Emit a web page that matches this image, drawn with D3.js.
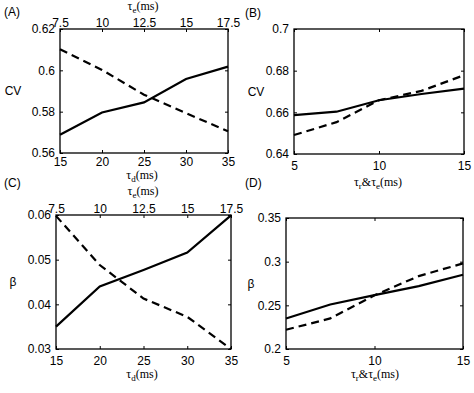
<!DOCTYPE html>
<html>
<head>
<meta charset="utf-8">
<script src="https://cdn.jsdelivr.net/npm/d3@7"></script>
<style>
  body { margin: 0; background: #fff; }
  svg { display: block; font-family: "Liberation Sans", Arial, sans-serif; }
  .tick text { font-size: 12px; fill: #000; }
</style>
</head>
<body>
<div id="chart"></div>
<script>
// x values
const tauD = [15, 20, 25, 30, 35];
const tauFE = [5, 7.5, 10, 12.5, 15];

// tick labels
const tauDTicks = [15, 20, 25, 30, 35];
const tauETopTicks = [7.5, 10, 12.5, 15, 17.5];
const tauFETicks = [5, 10, 15];
const cvATicks = [0.56, 0.58, 0.6, 0.62];
const cvBTicks = [0.64, 0.66, 0.68, 0.7];
const betaCTicks = [0.03, 0.04, 0.05, 0.06];
const betaDTicks = [0.2, 0.25, 0.3, 0.35];

// series (solid / dashed)
const cvASolid = [0.5688, 0.5796, 0.5845, 0.5958, 0.6018];
const cvADashed = [0.6102, 0.6002, 0.5882, 0.5793, 0.5705];
const cvBSolid = [0.6587, 0.6603, 0.6658, 0.6688, 0.6714];
const cvBDashed = [0.6491, 0.6553, 0.6658, 0.6703, 0.6778];
const betaCSolid = [0.0350, 0.0440, 0.0477, 0.0516, 0.0599];
const betaCDashed = [0.0598, 0.0488, 0.0413, 0.0372, 0.0300];
const betaDSolid = [0.235, 0.251, 0.2617, 0.272, 0.285];
const betaDDashed = [0.222, 0.235, 0.2615, 0.2835, 0.298];

const width = 474, height = 393;
const svg = d3.select("#chart").append("svg")
    .attr("width", width)
    .attr("height", height);

// tau axis label with subscripts
function tauLabel(g, x, y, sub, extra) {
    const t = g.append("text")
        .attr("x", x)
        .attr("y", y)
        .attr("text-anchor", "middle")
        .style("font-size", "12px")
        .style("font-family", "'Liberation Serif', serif");
    t.append("tspan").text("τ");
    t.append("tspan").attr("dy", 3).style("font-size", "9px").text(sub);
    if (extra) {
        t.append("tspan").attr("dy", -3).text("&τ");
        t.append("tspan").attr("dy", 3).style("font-size", "9px").text(extra);
    }
    t.append("tspan").attr("dy", -3).text("(ms)");
}

function drawPanel(p) {
    const x = d3.scaleLinear().domain(p.xDomain).range([p.left, p.right]);
    const y = d3.scaleLinear().domain(p.yDomain).range([p.bottom, p.top]);
    const g = svg.append("g");

    // axes, matlab style ticks pointing inside
    g.append("g")
        .attr("transform", `translate(0, ${p.bottom})`)
        .call(d3.axisBottom(x).tickValues(p.xTicks).tickSizeInner(-3).tickSizeOuter(0).tickPadding(p.xPad || 7).tickFormat(d3.format("")))
        .call(s => s.select(".domain").remove());
    g.append("g")
        .attr("transform", `translate(${p.left}, 0)`)
        .call(d3.axisLeft(y).tickValues(p.yTicks).tickSizeInner(-3).tickSizeOuter(0).tickPadding(5).tickFormat(d3.format("")))
        .call(s => s.select(".domain").remove());
    g.append("g")
        .attr("transform", `translate(${p.right}, 0)`)
        .call(d3.axisRight(y).tickValues(p.yTicks).tickSizeInner(-3).tickSizeOuter(0).tickFormat(""))
        .call(s => s.select(".domain").remove());

    if (p.topTicks) {
        const xTop = d3.scaleLinear().domain([p.xDomain[0] / 2, p.xDomain[1] / 2]).range([p.left, p.right]);
        g.append("g")
            .attr("transform", `translate(0, ${p.top})`)
            .call(d3.axisTop(xTop).tickValues(p.topTicks).tickSizeInner(-3).tickSizeOuter(0).tickPadding(2).tickFormat(d3.format("")))
            .call(s => s.select(".domain").remove());
    } else {
        g.append("g")
            .attr("transform", `translate(0, ${p.top})`)
            .call(d3.axisTop(x).tickValues(p.xTicks).tickSizeInner(-3).tickSizeOuter(0).tickFormat(""))
            .call(s => s.select(".domain").remove());
    }

    // box
    g.append("rect")
        .attr("x", p.left)
        .attr("y", p.top)
        .attr("width", p.right - p.left)
        .attr("height", p.bottom - p.top)
        .attr("fill", "none")
        .attr("stroke", "#000")
        .attr("stroke-width", 1.3);

    const line = d3.line()
        .x((d, i) => x(p.xs[i]))
        .y(d => y(d));

    g.append("path")
        .datum(p.solid)
        .attr("d", line)
        .attr("fill", "none")
        .attr("stroke", "#000")
        .attr("stroke-width", 2.2);

    g.append("path")
        .datum(p.dashed)
        .attr("d", line)
        .attr("fill", "none")
        .attr("stroke", "#000")
        .attr("stroke-width", 2.2)
        .attr("stroke-dasharray", "8,5");

    // panel letter and y label
    g.append("text")
        .attr("x", p.letterX)
        .attr("y", p.letterY)
        .style("font-size", "12px")
        .text(p.letter);

    g.append("text")
        .attr("x", p.yLabelX)
        .attr("y", (p.top + p.bottom) / 2 + 4)
        .attr("text-anchor", "middle")
        .style("font-size", "12px")
        .text(p.yLabel);

    return g;
}

const gA = drawPanel({
    letter: "(A)", letterX: 4, letterY: 16,
    left: 60, right: 228, top: 29, bottom: 153,
    xDomain: [15, 35], yDomain: [0.56, 0.62], xPad: 4,
    xTicks: tauDTicks, yTicks: cvATicks, topTicks: tauETopTicks,
    xs: tauD, solid: cvASolid, dashed: cvADashed,
    yLabel: "CV", yLabelX: 13
});
tauLabel(gA, 142, 179, "d");
tauLabel(gA, 143, 10, "e");

const gB = drawPanel({
    letter: "(B)", letterX: 245, letterY: 17,
    left: 294, right: 464, top: 29, bottom: 154,
    xDomain: [5, 15], yDomain: [0.64, 0.7],
    xTicks: tauFETicks, yTicks: cvBTicks,
    xs: tauFE, solid: cvBSolid, dashed: cvBDashed,
    yLabel: "CV", yLabelX: 256
});
tauLabel(gB, 378, 186, "r", "e");

const gC = drawPanel({
    letter: "(C)", letterX: 4, letterY: 187,
    left: 56, right: 231, top: 215, bottom: 349,
    xDomain: [15, 35], yDomain: [0.03, 0.06],
    xTicks: tauDTicks, yTicks: betaCTicks, topTicks: tauETopTicks,
    xs: tauD, solid: betaCSolid, dashed: betaCDashed,
    yLabel: "β", yLabelX: 13
});
tauLabel(gC, 143, 195, "e");
tauLabel(gC, 142, 378, "d");

const gD = drawPanel({
    letter: "(D)", letterX: 245, letterY: 187,
    left: 286, right: 463, top: 218, bottom: 349,
    xDomain: [5, 15], yDomain: [0.2, 0.35],
    xTicks: tauFETicks, yTicks: betaDTicks,
    xs: tauFE, solid: betaDSolid, dashed: betaDDashed,
    yLabel: "β", yLabelX: 251
});
tauLabel(gD, 375, 378, "r", "e");
</script>
</body>
</html>
